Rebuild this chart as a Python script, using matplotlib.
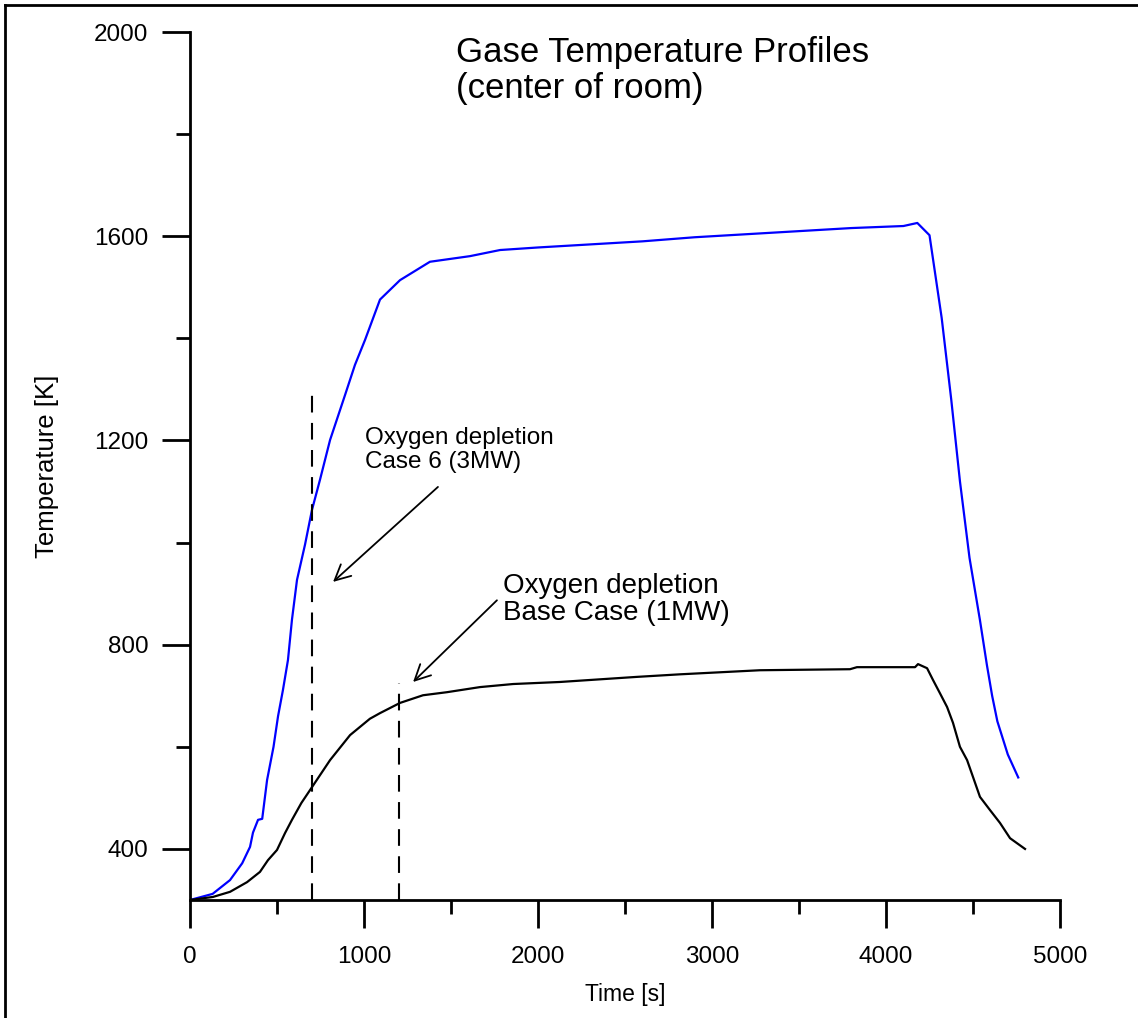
import matplotlib.pyplot as plt
from matplotlib.lines import Line2D

plt.rcParams['font.family'] = ['Liberation Sans', 'DejaVu Sans']

# case 6 (3MW), blue
time_case6 = [0, 130, 230, 300, 345, 362, 391, 415, 443, 480, 506, 534, 563, 586, 615,
              661, 701, 747, 805, 891, 948, 1006, 1092, 1207, 1379, 1609, 1782, 2000,
              2300, 2600, 2900, 3200, 3500, 3800, 4100, 4180, 4250, 4320, 4375, 4425,
              4480, 4540, 4580, 4610, 4640, 4700, 4760]
temp_case6 = [300, 312, 339, 372, 404, 432, 457, 459, 535, 600, 660, 711, 770, 849, 927,
              996, 1064, 1123, 1201, 1289, 1348, 1397, 1476, 1514, 1550, 1561, 1573, 1578,
              1584, 1590, 1598, 1604, 1610, 1616, 1620, 1626, 1602, 1440, 1280, 1120,
              970, 848, 760, 700, 650, 585, 540]

# base case (1MW), black
time_base = [0, 132, 230, 328, 402, 448, 500, 546, 586, 640, 701, 805, 920, 1034, 1092,
             1207, 1339, 1477, 1667, 1857, 2126, 2569, 2816, 3276, 3793, 3833, 4167, 4184,
             4236, 4270, 4310, 4351, 4385, 4425, 4466, 4500, 4540, 4598, 4655, 4713, 4799]
temp_base = [300, 306, 316, 335, 355, 378, 398, 431, 457, 490, 521, 574, 623, 655, 666,
             686, 701, 707, 717, 723, 727, 737, 742, 750, 752, 756, 756, 762,
             754, 731, 705, 678, 647, 600, 574, 541, 502, 476, 451, 421, 400]

# oxygen depletion markers: (time, top of dashed line)
depletion_times = [700, 1200]
depletion_tops = [1300, 725]

fig = plt.figure(figsize=(11.38, 10.18), dpi=100)
ax = fig.add_axes([190/1138, 1 - 900/1018, 870/1138, 868/1018])

ax.plot(time_case6, temp_case6, color='#0000ff', lw=1.6)
ax.plot(time_base, temp_base, color='black', lw=1.6)

for t, top in zip(depletion_times, depletion_tops):
    ax.plot([t, t], [300, top], color='black', lw=1.5, dashes=(8, 5))

ax.set_xlim(0, 5000)
ax.set_ylim(300, 2000)
ax.set_xticks([0, 1000, 2000, 3000, 4000, 5000])
ax.set_xticks([500, 1500, 2500, 3500, 4500], minor=True)
ax.set_yticks([400, 800, 1200, 1600, 2000])
ax.set_yticks([600, 1000, 1400, 1800], minor=True)

for side in ['top', 'right']:
    ax.spines[side].set_visible(False)
for side in ['left', 'bottom']:
    ax.spines[side].set_linewidth(2)

ax.tick_params(which='major', length=20, width=2, labelsize=17.5)
ax.tick_params(which='minor', length=10, width=2)
ax.tick_params(axis='x', which='major', pad=13)
ax.tick_params(axis='y', which='major', pad=10)

ax.set_xlabel('Time [s]', fontsize=16.5, labelpad=11)
ax.set_ylabel('Temperature [K]', fontsize=18.5, labelpad=25)

ax.text(1530, 1992, 'Gase Temperature Profiles\n(center of room)', fontsize=25,
        va='top', ha='left', linespacing=1.12)

ax.text(1006, 1226, 'Oxygen depletion\nCase 6 (3MW)', fontsize=17.5,
        va='top', ha='left', linespacing=1.08)
ax.annotate('', xy=(822, 923), xytext=(1425, 1109),
            arrowprops=dict(arrowstyle='->', color='black', lw=1.3,
                            mutation_scale=28, shrinkA=0, shrinkB=0))

ax.text(1799, 940, 'Oxygen depletion\nBase Case (1MW)', fontsize=20,
        va='top', ha='left', linespacing=1.02)
ax.annotate('', xy=(1282, 727), xytext=(1764, 887),
            arrowprops=dict(arrowstyle='->', color='black', lw=1.3,
                            mutation_scale=28, shrinkA=0, shrinkB=0))

# frame around the picture
fig.add_artist(Line2D([5/1138, 5/1138], [0, 1 - 5/1018], color='black', lw=2))
fig.add_artist(Line2D([5/1138, 1], [1 - 5/1018, 1 - 5/1018], color='black', lw=2))

fig.savefig('out.png', dpi=100)
